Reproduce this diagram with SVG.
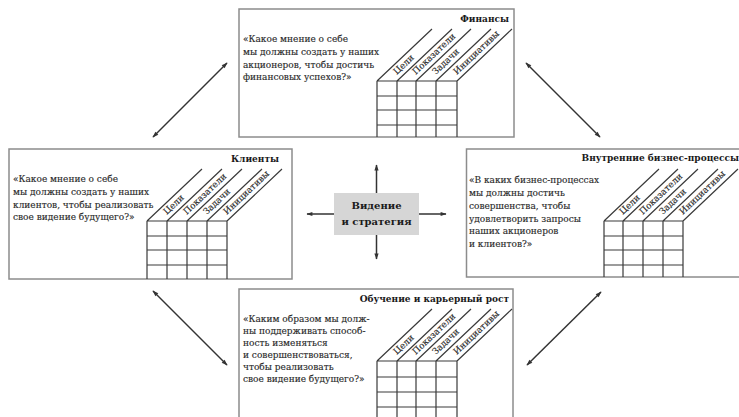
<svg xmlns="http://www.w3.org/2000/svg" width="739" height="417" viewBox="0 0 739 417">
<defs>
<style>
.box{fill:#fff;stroke:#8c8c8c;stroke-width:1.5}
.g{stroke:#3a3a3a;stroke-width:1.2;fill:none}
.t{font-family:"DejaVu Serif","Liberation Serif",serif;font-size:9px;fill:#2a2a2a;stroke:#2a2a2a;stroke-width:0.15}
.h{font-family:"DejaVu Serif","Liberation Serif",serif;font-size:9px;font-weight:bold;fill:#1a1a1a;text-anchor:end}
.l{font-family:"DejaVu Serif","Liberation Serif",serif;font-size:8.8px;fill:#2a2a2a;stroke:#2a2a2a;stroke-width:0.15}
.c{font-family:"DejaVu Serif","Liberation Serif",serif;font-size:10px;font-weight:bold;fill:#1a1a1a;text-anchor:middle}
.a{stroke:#333;stroke-width:1.5;fill:none}
</style>
<marker id="ah" viewBox="0 0 10 10" refX="9" refY="5" markerWidth="7" markerHeight="6" orient="auto-start-reverse" markerUnits="userSpaceOnUse">
<path d="M0,1.5 L10,5 L0,8.5 Z" fill="#333"/>
</marker>
</defs>
<rect width="739" height="417" fill="#fff"/>

<g id="connectors">
<line class="a" x1="376.5" y1="193" x2="376.5" y2="165" marker-end="url(#ah)"/>
<line class="a" x1="376.5" y1="235" x2="376.5" y2="259" marker-end="url(#ah)"/>
<line class="a" x1="334" y1="214" x2="307" y2="214" marker-end="url(#ah)"/>
<line class="a" x1="419" y1="214" x2="446" y2="214" marker-end="url(#ah)"/>
<line class="a" x1="153" y1="137" x2="227" y2="63" marker-start="url(#ah)" marker-end="url(#ah)"/>
<line class="a" x1="526" y1="63" x2="600" y2="137" marker-start="url(#ah)" marker-end="url(#ah)"/>
<line class="a" x1="153" y1="291" x2="227" y2="365" marker-start="url(#ah)" marker-end="url(#ah)"/>
<line class="a" x1="527" y1="365" x2="601" y2="292" marker-start="url(#ah)" marker-end="url(#ah)"/>
</g>

<g id="center">
<rect x="334" y="193" width="85" height="42" fill="#d6d6d6"/>
<text class="c" x="376.5" y="208.5">Видение</text>
<text class="c" x="376.5" y="224.5">и стратегия</text>
</g>

<g id="finance">
<rect class="box" x="239" y="9" width="275" height="128"/>
<text class="h" x="509" y="21.5">Финансы</text>
<text class="t" x="243" y="42">«Какое мнение о себе</text>
<text class="t" x="243" y="55">мы должны создать у наших</text>
<text class="t" x="243" y="68">акционеров, чтобы достичь</text>
<text class="t" x="243" y="80">финансовых успехов?»</text>
<path class="g" d="M377,81H457M377,96H457M377,110H457M377,125H457M377,81V137M397,81V137M416,81V137M436,81V137M457,81V137M377,81l55,-52M397,81l55,-52M416,81l55,-52M436,81l55,-52M457,81l55,-52"/>
<text class="l" transform="translate(397,81) rotate(-43.4)" x="4" y="-4.5">Цели</text>
<text class="l" transform="translate(416,81) rotate(-43.4)" x="4" y="-4.5">Показатели</text>
<text class="l" transform="translate(436,81) rotate(-43.4)" x="4" y="-4.5">Задачи</text>
<text class="l" transform="translate(457,81) rotate(-43.4)" x="4" y="-4.5">Инициативы</text>
</g>

<g id="clients">
<rect class="box" x="9" y="149" width="283" height="130"/>
<text class="h" x="279" y="161.5">Клиенты</text>
<text class="t" x="13" y="182">«Какое мнение о себе</text>
<text class="t" x="13" y="195">мы должны создать у наших</text>
<text class="t" x="13" y="208">клиентов, чтобы реализовать</text>
<text class="t" x="13" y="220">свое видение будущего?»</text>
<path class="g" d="M147,221H227M147,236H227M147,250H227M147,265H227M147,221V279M167,221V279M187,221V279M207,221V279M227,221V279M147,221l55,-52M167,221l55,-52M187,221l55,-52M207,221l55,-52M227,221l55,-52"/>
<text class="l" transform="translate(167,221) rotate(-43.4)" x="4" y="-4.5">Цели</text>
<text class="l" transform="translate(187,221) rotate(-43.4)" x="4" y="-4.5">Показатели</text>
<text class="l" transform="translate(207,221) rotate(-43.4)" x="4" y="-4.5">Задачи</text>
<text class="l" transform="translate(227,221) rotate(-43.4)" x="4" y="-4.5">Инициативы</text>
</g>

<g id="processes">
<rect class="box" x="466.5" y="149" width="280" height="128"/>
<text class="h" x="739" y="160.5">Внутренние бизнес-процессы</text>
<text class="t" x="469" y="183">«В каких бизнес-процессах</text>
<text class="t" x="469" y="196">мы должны достичь</text>
<text class="t" x="469" y="209">совершенства, чтобы</text>
<text class="t" x="469" y="222">удовлетворить запросы</text>
<text class="t" x="469" y="234">наших акционеров</text>
<text class="t" x="469" y="247">и клиентов?»</text>
<path class="g" d="M604,221H683M604,236H683M604,250H683M604,265H683M604,221V277M623,221V277M643,221V277M663,221V277M683,221V277M604,221l55,-52M623,221l55,-52M643,221l55,-52M663,221l55,-52M683,221l55,-52"/>
<text class="l" transform="translate(623,221) rotate(-43.4)" x="4" y="-4.5">Цели</text>
<text class="l" transform="translate(643,221) rotate(-43.4)" x="4" y="-4.5">Показатели</text>
<text class="l" transform="translate(663,221) rotate(-43.4)" x="4" y="-4.5">Задачи</text>
<text class="l" transform="translate(683,221) rotate(-43.4)" x="4" y="-4.5">Инициативы</text>
</g>

<g id="learning">
<rect class="box" x="239" y="289" width="274" height="140"/>
<text class="h" x="509" y="301.5">Обучение и карьерный рост</text>
<text class="t" x="243" y="322">«Каким образом мы долж-</text>
<text class="t" x="243" y="334">ны поддерживать способ-</text>
<text class="t" x="243" y="346">ность изменяться</text>
<text class="t" x="243" y="358">и совершенствоваться,</text>
<text class="t" x="243" y="370">чтобы реализовать</text>
<text class="t" x="243" y="382">свое видение будущего?»</text>
<path class="g" d="M377,361H457M377,377H457M377,392H457M377,407H457M377,361V420M397,361V420M416,361V420M436,361V420M457,361V420M377,361l55,-52M397,361l55,-52M416,361l55,-52M436,361l55,-52M457,361l55,-52"/>
<text class="l" transform="translate(397,361) rotate(-43.4)" x="4" y="-4.5">Цели</text>
<text class="l" transform="translate(416,361) rotate(-43.4)" x="4" y="-4.5">Показатели</text>
<text class="l" transform="translate(436,361) rotate(-43.4)" x="4" y="-4.5">Задачи</text>
<text class="l" transform="translate(457,361) rotate(-43.4)" x="4" y="-4.5">Инициативы</text>
</g>
</svg>
